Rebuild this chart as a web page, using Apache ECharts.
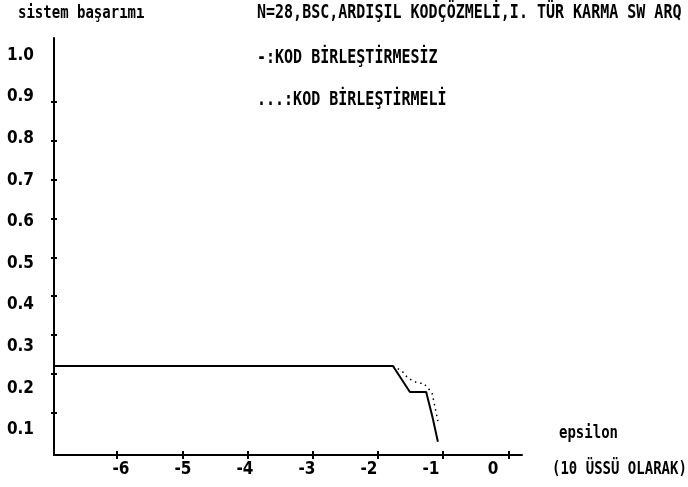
<!DOCTYPE html>
<html>
<head>
<meta charset="utf-8">
<script src="https://cdn.jsdelivr.net/npm/echarts@6/dist/echarts.min.js"></script>
<style>
html,body{margin:0;padding:0;background:#fff;}
#c{width:688px;height:487px;}
</style>
</head>
<body>
<div id="c"></div>
<script>
// ---- data ----
const solidX = [-6.97, -1.77, -1.51, -1.26, -1.16, -1.08];
const solidY = [0.220, 0.220, 0.153, 0.153, 0.086, 0.025];
const dottedX = [-1.77, -1.63, -1.54, -1.39, -1.30, -1.17, -1.08];
const dottedY = [0.220, 0.207, 0.189, 0.176, 0.176, 0.151, 0.078];
const xTicks = [-6, -5, -4, -3, -2, -1, 0];
const yTicks = [0.1, 0.2, 0.3, 0.4, 0.5, 0.6, 0.7, 0.8, 0.9];
const yTickLabels = ['0.1', '0.2', '0.3', '0.4', '0.5', '0.6', '0.7', '0.8', '0.9', '1.0'];
const titleText = 'N=28,BSC,ARDIŞIL KODÇÖZMELİ,I. TÜR KARMA SW ARQ';
const legendSolid = '-:KOD BİRLEŞTİRMESİZ';
const legendDotted = '...:KOD BİRLEŞTİRMELİ';
const yName = 'sistem başarımı';
const xName1 = 'epsilon';
const xName2 = '(10 ÜSSÜ OLARAK)';

const FONT = 'DejaVu Sans Mono';
const NUMFONT = 'DejaVu Sans Condensed';
const chart = echarts.init(document.getElementById('c'), null, {renderer: 'canvas'});

const pairs = (xs, ys) => xs.map((x, i) => [x, ys[i]]);
const yLabelValues = yTickLabels.map(s => parseFloat(s));

const txt = (x, y, text, size) => ({
  type: 'text', x: x, y: y, scaleY: 1.3,
  style: {text: text, fill: '#000', font: 'bold ' + size + 'px "' + FONT + '"',
    align: 'left', verticalAlign: 'middle'}
});

const tickStyle = {color: '#000', width: 2};

chart.setOption({
  animation: false,
  backgroundColor: '#fff',
  grid: {left: 54, right: 166, top: 38, bottom: 32, containLabel: false},
  xAxis: [
    { // data axis, ticks below
      type: 'value', min: -6.97, max: 0.21, position: 'bottom',
      axisLine: {show: true, onZero: false, lineStyle: {color: '#000', width: 2}},
      axisTick: {show: true, inside: false, length: 4, customValues: xTicks, lineStyle: tickStyle},
      axisLabel: {show: false}, splitLine: {show: false}
    },
    { // label axis
      type: 'value', min: -7.081, max: 0.4677, position: 'bottom',
      axisLine: {show: false, onZero: false}, axisTick: {show: false}, splitLine: {show: false},
      axisLabel: {show: true, customValues: xTicks, margin: 6, color: '#000',
        fontFamily: NUMFONT, fontWeight: 'bold', fontSize: 17,
        formatter: v => String(Math.round(v))}
    },
    { // ticks above
      type: 'value', min: -6.97, max: 0.21, position: 'bottom',
      axisLine: {show: false, onZero: false},
      axisTick: {show: true, inside: true, length: 4, customValues: xTicks, lineStyle: tickStyle},
      axisLabel: {show: false}, splitLine: {show: false}
    }
  ],
  yAxis: [
    {
      type: 'value', min: -0.009, max: 1.0646, position: 'left',
      axisLine: {show: true, onZero: false, lineStyle: {color: '#000', width: 2}},
      axisTick: {show: true, inside: false, length: 3, customValues: yTicks, lineStyle: tickStyle},
      axisLabel: {show: false}, splitLine: {show: false}
    },
    {
      type: 'value', min: 0.0394, max: 1.0418, position: 'left',
      axisLine: {show: false, onZero: false}, axisTick: {show: false}, splitLine: {show: false},
      axisLabel: {show: true, customValues: yLabelValues, margin: 20, color: '#000',
        fontFamily: NUMFONT, fontWeight: 'bold', fontSize: 17,
        formatter: v => v.toFixed(1)}
    },
    {
      type: 'value', min: -0.009, max: 1.0646, position: 'left',
      axisLine: {show: false, onZero: false},
      axisTick: {show: true, inside: true, length: 3, customValues: yTicks, lineStyle: tickStyle},
      axisLabel: {show: false}, splitLine: {show: false}
    }
  ],
  series: [
    {
      type: 'line', name: legendSolid, xAxisIndex: 0, yAxisIndex: 0,
      data: pairs(solidX, solidY), showSymbol: false, symbol: 'none',
      lineStyle: {color: '#000', width: 2, type: 'solid'}
    },
    {
      type: 'line', name: legendDotted, xAxisIndex: 0, yAxisIndex: 0,
      data: pairs(dottedX, dottedY), showSymbol: false, symbol: 'none',
      lineStyle: {color: '#000', width: 1.5, type: [1.5, 4]}
    }
  ],
  graphic: [
    txt(18, 13, yName, 14),
    txt(257, 13, titleText, 15),
    txt(257, 58, legendSolid, 15),
    txt(257, 100, legendDotted, 15),
    txt(559, 433, xName1, 14),
    txt(552, 469, xName2, 14)
  ]
});
</script>
</body>
</html>
